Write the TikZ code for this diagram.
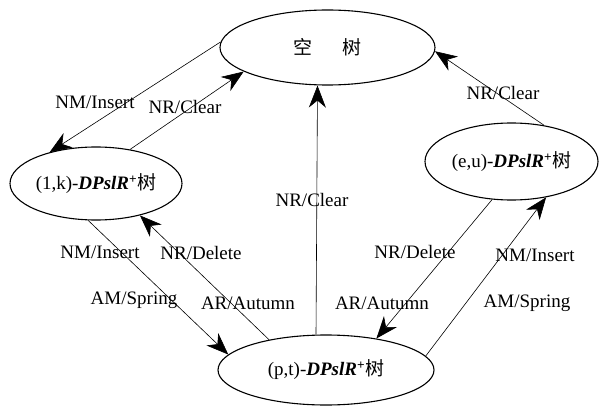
\documentclass[tikz,border=0pt]{standalone}
\usepackage{fontspec}
\setmainfont{Liberation Serif}
\newfontfamily\cjk{Noto Sans CJK SC}
\usetikzlibrary{arrows.meta,shapes.geometric}

\newcommand{\treename}[1]{#1-\textbf{\textit{DPslR}}\textsuperscript{\textbf{+}}{\cjk 树}}

\begin{document}
\begin{tikzpicture}[x=1pt,y=-1pt,font=\fontsize{19}{22}\selectfont]
      \useasboundingbox (0,0) rectangle (599,406);
      \begin{scope}[every node/.style={ellipse,draw,line width=1.1pt,inner sep=0pt}]
        \node[minimum width=215pt,minimum height=75pt] (empty) at (327.5,47.5) {{\cjk 空\hspace{1.6em}树}};
        \node[minimum width=172pt,minimum height=73pt] (lk) at (96,183.5) {\treename{(1,k)}};
        \node[minimum width=173pt,minimum height=77pt] (eu) at (511.5,161.5) {\treename{(e,u)}};
        \node[minimum width=216pt,minimum height=70pt] (pt) at (326,370) {\treename{(p,t)}};
      \end{scope}
      \begin{scope}[every node/.style={inner sep=1pt}]
        \node (ins1) at (95,102) {NM/Insert};
        \node (clr1) at (185,107) {NR/Clear};
        \node (clr2) at (312,200) {NR/Clear};
        \node (clr3) at (503,93) {NR/Clear};
        \node (ins2) at (100,252) {NM/Insert};
        \node (spr1) at (134,300) {AM/Spring};
        \node (del1) at (201,253) {NR/Delete};
        \node (aut1) at (248,303) {AR/Autumn};
        \node (aut2) at (382,303) {AR/Autumn};
        \node (del2) at (415,252) {NR/Delete};
        \node (ins3) at (535,255) {NM/Insert};
        \node (spr2) at (527,303) {AM/Spring};
      \end{scope}
      \begin{scope}[every edge/.style={draw,line width=0.6pt,-{Stealth[length=22pt,width=17pt,inset=7pt]}}]
        \path (empty.177) edge (lk.146);
        \path (lk.45) edge (empty.196);
        \path ([xshift=-10pt]pt.north) edge ([xshift=-10pt]empty.south);
        \path (eu.48) edge (empty.-2);
        \path (lk.258) edge (pt.171);
        \path (pt.152) edge (lk.-36);
        \path (eu.-117) edge (pt.32);
        \path (pt.8) edge (eu.-46);
      \end{scope}
    \end{tikzpicture}
\end{document}
